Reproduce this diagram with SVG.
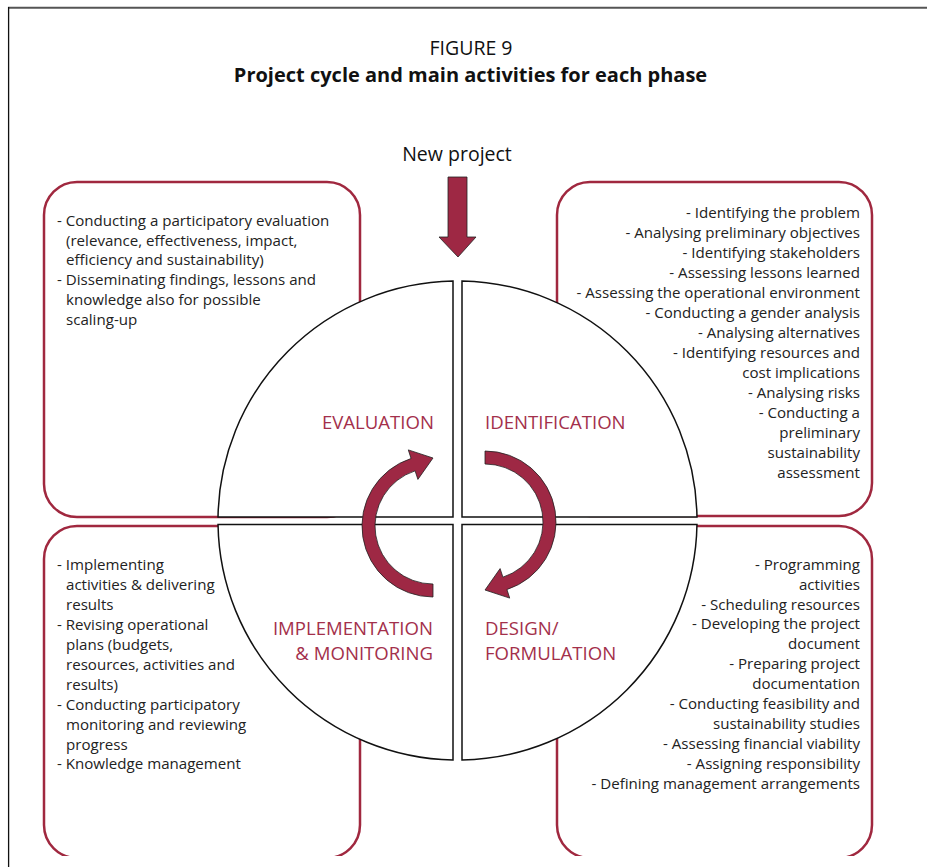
<svg xmlns="http://www.w3.org/2000/svg" width="927" height="867" viewBox="0 0 927 867">
<defs>
<style>
.t{font-family:"Open Sans","Noto Sans","Liberation Sans",sans-serif;font-size:15.1px;fill:#222}
.r{text-anchor:end}
.lab{font-family:"Open Sans","Noto Sans","Liberation Sans",sans-serif;font-size:18.6px;fill:#a3304b}
.box{fill:#fff;stroke:#a0283f;stroke-width:2.5}
.q{fill:#fff;stroke:#111;stroke-width:1.5}
.arr{fill:#9e2844;stroke:#222;stroke-width:0.8}
</style>
<clipPath id="clipB"><rect x="0" y="0" width="927" height="856"/></clipPath>
<path id="cyc" d="M 0 71 A 71 71 0 0 1 -21.94 -67.53 L -24.7 -76.1 L 0 -68 L -15.1 -46.6 L -17.92 -55.16 A 58 58 0 0 0 0 58 Z"/>
</defs>
<rect width="927" height="867" fill="#fff"/>
<g id="frame">
<line x1="8" y1="7.7" x2="927" y2="7.7" stroke="#555" stroke-width="2"/>
<line x1="8.6" y1="7" x2="8.6" y2="867" stroke="#111" stroke-width="1.3"/>
</g>
<g id="title" font-family="'Open Sans','Noto Sans','Liberation Sans',sans-serif" text-anchor="middle" fill="#111">
<text x="471" y="55" font-size="19.5">FIGURE 9</text>
<text x="470.5" y="82" font-size="20" font-weight="bold">Project cycle and main activities for each phase</text>
</g>
<g id="boxes">
<g id="box-evaluation"><rect class="box" x="44" y="182" width="316" height="335" rx="33"/></g>
<g id="box-identification"><rect class="box" x="557" y="182" width="315" height="334" rx="33"/></g>
<g id="box-implementation" clip-path="url(#clipB)"><rect class="box" x="44" y="526" width="316" height="332" rx="33"/></g>
<g id="box-design" clip-path="url(#clipB)"><rect class="box" x="557" y="526" width="315" height="332" rx="33"/></g>
</g>
<g id="circle">
<path id="q-evaluation" class="q" d="M 453 517 L 218.03 517 A 239.5 239.5 0 0 1 453 281.04 Z"/>
<path id="q-identification" class="q" d="M 462 517 L 462 281.04 A 239.5 239.5 0 0 1 696.97 517 Z"/>
<path id="q-design" class="q" d="M 462 524.5 L 696.97 524.5 A 239.5 239.5 0 0 1 462 759.96 Z"/>
<path id="q-implementation" class="q" d="M 453 524.5 L 453 759.96 A 239.5 239.5 0 0 1 218.03 524.5 Z"/>
</g>
<g id="connectors">
<path id="new-project-arrow" class="arr" d="M 448 177 L 467 177 L 467 237 L 476 237 L 458 257 L 439 237 L 448 237 Z"/>
<use href="#cyc" class="arr" transform="translate(433 526)"/>
<use href="#cyc" class="arr" transform="translate(485 522) rotate(180)"/>
</g>
<g id="new-project"><text x="457" y="161" font-family="'Open Sans','Noto Sans','Liberation Sans',sans-serif" font-size="19.5" text-anchor="middle" fill="#111">New project</text></g>
<g id="labels">
<text class="lab r" x="434" y="429">EVALUATION</text>
<text class="lab" x="485" y="429">IDENTIFICATION</text>
<text class="lab r" x="433" y="635">IMPLEMENTATION</text>
<text class="lab r" x="433" y="660">&amp; MONITORING</text>
<text class="lab" x="485" y="635">DESIGN/</text>
<text class="lab" x="485" y="660">FORMULATION</text>
</g>
<g id="text-evaluation" class="t">
<text x="57" y="226">- Conducting a participatory evaluation</text>
<text x="66" y="246">(relevance, effectiveness, impact,</text>
<text x="66" y="265">efficiency and sustainability)</text>
<text x="57" y="285">- Disseminating findings, lessons and</text>
<text x="66" y="305">knowledge also for possible</text>
<text x="66" y="325">scaling-up</text>
</g>
<g id="text-identification" class="t r">
<text x="860" y="218">- Identifying the problem</text>
<text x="860" y="238">- Analysing preliminary objectives</text>
<text x="860" y="258">- Identifying stakeholders</text>
<text x="860" y="278">- Assessing lessons learned</text>
<text x="860" y="298">- Assessing the operational environment</text>
<text x="860" y="318">- Conducting a gender analysis</text>
<text x="860" y="338">- Analysing alternatives</text>
<text x="860" y="358">- Identifying resources and</text>
<text x="860" y="378">cost implications</text>
<text x="860" y="398">- Analysing risks</text>
<text x="860" y="418">- Conducting a</text>
<text x="860" y="438">preliminary</text>
<text x="860" y="458">sustainability</text>
<text x="860" y="478">assessment</text>
</g>
<g id="text-implementation" class="t">
<text x="57" y="570">- Implementing</text>
<text x="66" y="590">activities &amp; delivering</text>
<text x="66" y="610">results</text>
<text x="57" y="630">- Revising operational</text>
<text x="66" y="650">plans (budgets,</text>
<text x="66" y="670">resources, activities and</text>
<text x="66" y="690">results)</text>
<text x="57" y="710">- Conducting participatory</text>
<text x="66" y="730">monitoring and reviewing</text>
<text x="66" y="750">progress</text>
<text x="57" y="769">- Knowledge management</text>
</g>
<g id="text-design" class="t r">
<text x="860" y="570">- Programming</text>
<text x="860" y="590">activities</text>
<text x="860" y="610">- Scheduling resources</text>
<text x="860" y="629">- Developing the project</text>
<text x="860" y="649">document</text>
<text x="860" y="669">- Preparing project</text>
<text x="860" y="689">documentation</text>
<text x="860" y="709">- Conducting feasibility and</text>
<text x="860" y="729">sustainability studies</text>
<text x="860" y="749">- Assessing financial viability</text>
<text x="860" y="769">- Assigning responsibility</text>
<text x="860" y="789">- Defining management arrangements</text>
</g>
</svg>
